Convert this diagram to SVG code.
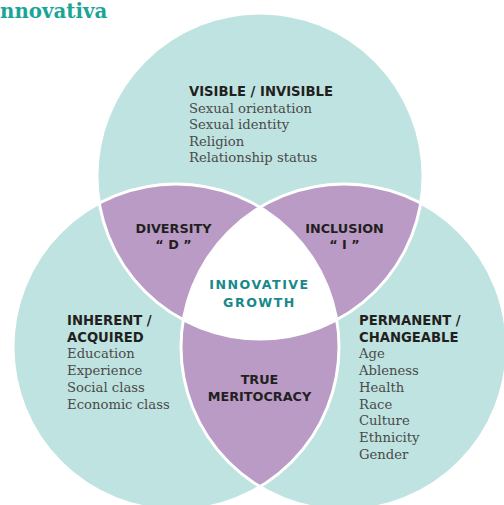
<svg xmlns="http://www.w3.org/2000/svg" width="504" height="505" viewBox="0 0 504 505">
  <style>
    .circle { fill: #bfe3e0; }
    .lens { fill: #b99bc6; }
    .core { fill: #ffffff; }
    .rim { fill: none; stroke: #ffffff; stroke-width: 3; }
    .head { font-family: "DejaVu Sans", "Liberation Sans", sans-serif; font-weight: bold; font-size: 13.2px; fill: #231f20; }
    .item { font-family: "DejaVu Serif", "Liberation Serif", serif; font-size: 13.2px; fill: #4a4a4a; }
    .mid { font-family: "DejaVu Sans", "Liberation Sans", sans-serif; font-weight: bold; font-size: 12.8px; fill: #231f20; text-anchor: middle; }
    .core-label { font-family: "DejaVu Sans", "Liberation Sans", sans-serif; font-weight: bold; font-size: 12.6px; letter-spacing: 1.5px; fill: #17888b; text-anchor: middle; }
    .title { font-family: "DejaVu Serif", "Liberation Serif", serif; font-weight: bold; font-size: 19.8px; fill: #1ba596; }
  </style>

  <text class="title" x="0" y="17.5">nnovativa</text>

  <!-- three base circles -->
  <g id="circle-top"><circle class="circle" cx="260" cy="176" r="163"/></g>
  <g id="circle-left"><circle class="circle" cx="176" cy="347" r="163"/></g>
  <g id="circle-right"><circle class="circle" cx="344" cy="347" r="163"/></g>

  <!-- pairwise overlaps -->
  <g id="diversity">
    <path class="lens" d="M99.2,203.2 A163,163 0 0 1 260,207.3 A163,163 0 0 0 183.2,319.8 A163,163 0 0 1 99.2,203.2 Z"/>
  </g>
  <g id="inclusion">
    <path class="lens" d="M260,207.3 A163,163 0 0 1 420.8,203.2 A163,163 0 0 1 336.8,319.8 A163,163 0 0 0 260,207.3 Z"/>
  </g>
  <g id="meritocracy">
    <path class="lens" d="M183.2,319.8 A163,163 0 0 0 336.8,319.8 A163,163 0 0 1 260,486.7 A163,163 0 0 1 183.2,319.8 Z"/>
  </g>
  <!-- triple overlap -->
  <g id="innovative-growth">
    <path class="core" d="M260,207.3 A163,163 0 0 1 336.8,319.8 A163,163 0 0 1 183.2,319.8 A163,163 0 0 1 260,207.3 Z"/>
  </g>

  <!-- white outlines separating the regions -->
  <g id="outlines">
    <circle class="rim" cx="260" cy="176" r="163"/>
    <circle class="rim" cx="176" cy="347" r="163"/>
    <circle class="rim" cx="344" cy="347" r="163"/>
  </g>

  <!-- labels -->
  <g id="label-top">
    <text class="head" x="189" y="96">VISIBLE / INVISIBLE</text>
    <text class="item" x="189" y="112.5">Sexual orientation</text>
    <text class="item" x="189" y="129">Sexual identity</text>
    <text class="item" x="189" y="145.7">Religion</text>
    <text class="item" x="189" y="162.4">Relationship status</text>
  </g>
  <g id="label-left">
    <text class="head" x="67" y="325">INHERENT /</text>
    <text class="head" x="67" y="341.5">ACQUIRED</text>
    <text class="item" x="67" y="358.3">Education</text>
    <text class="item" x="67" y="375">Experience</text>
    <text class="item" x="67" y="391.7">Social class</text>
    <text class="item" x="67" y="408.5">Economic class</text>
  </g>
  <g id="label-right">
    <text class="head" x="359" y="325">PERMANENT /</text>
    <text class="head" x="359" y="341.5">CHANGEABLE</text>
    <text class="item" x="359" y="358.3">Age</text>
    <text class="item" x="359" y="375">Ableness</text>
    <text class="item" x="359" y="391.7">Health</text>
    <text class="item" x="359" y="408.6">Race</text>
    <text class="item" x="359" y="425.4">Culture</text>
    <text class="item" x="359" y="442">Ethnicity</text>
    <text class="item" x="359" y="458.6">Gender</text>
  </g>
  <g id="label-diversity">
    <text class="mid" x="173.5" y="233.3">DIVERSITY</text>
    <text class="mid" x="173.5" y="249.3">“ D ”</text>
  </g>
  <g id="label-inclusion">
    <text class="mid" x="344.5" y="233.3">INCLUSION</text>
    <text class="mid" x="344.5" y="249.3">“ I ”</text>
  </g>
  <g id="label-core">
    <text class="core-label" x="259.5" y="289.3">INNOVATIVE</text>
    <text class="core-label" x="259.5" y="306.7">GROWTH</text>
  </g>
  <g id="label-meritocracy">
    <text class="mid" x="259.5" y="384">TRUE</text>
    <text class="mid" x="259.5" y="400.7">MERITOCRACY</text>
  </g>
</svg>
